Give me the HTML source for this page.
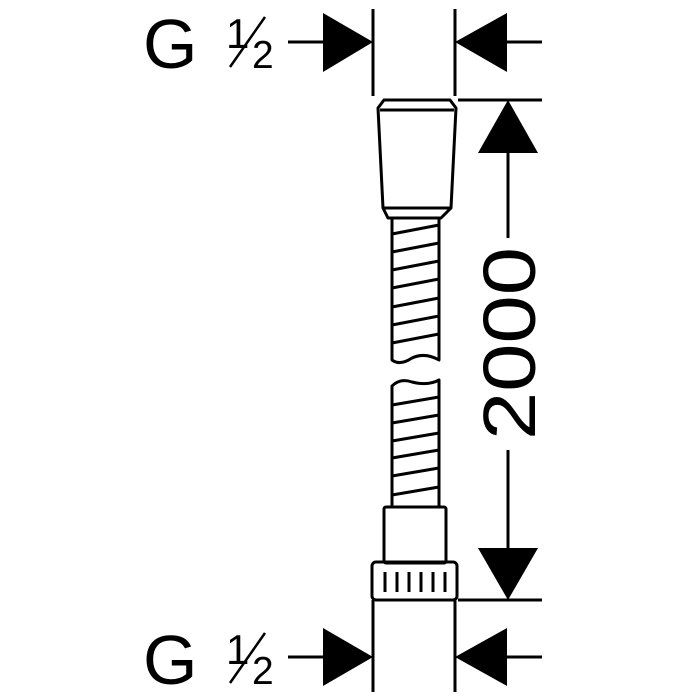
<!DOCTYPE html>
<html><head><meta charset="utf-8"><style>html,body{margin:0;padding:0;background:#fff}svg{display:block}</style></head>
<body>
<svg width="700" height="700" viewBox="0 0 700 700" xmlns="http://www.w3.org/2000/svg" font-family="Liberation Sans, sans-serif">
<g stroke="#000" stroke-width="3" fill="none" stroke-linejoin="round">
  <!-- top dimension -->
  <line x1="373" y1="9" x2="373" y2="96"/>
  <line x1="455" y1="9" x2="455" y2="96"/>
  <line x1="288" y1="42" x2="325" y2="42"/>
  <line x1="505" y1="42" x2="542" y2="42"/>
  <!-- bottom dimension -->
  <line x1="373" y1="600" x2="373" y2="692"/>
  <line x1="455" y1="600" x2="455" y2="692"/>
  <line x1="288" y1="657" x2="325" y2="657"/>
  <line x1="505" y1="657" x2="542" y2="657"/>
  <!-- vertical dimension -->
  <line x1="458" y1="100" x2="542" y2="100"/>
  <line x1="458" y1="600" x2="542" y2="600"/>
  <line x1="508" y1="150" x2="508" y2="238"/>
  <line x1="508" y1="450" x2="508" y2="550"/>
  <!-- top fitting -->
  <path d="M384,100 L450,100 L456,108 L451,208 L441,218 L388,218 L383,208 L378,108 Z"/>
  <line x1="380" y1="110" x2="454" y2="110"/>
  <line x1="384" y1="208" x2="450" y2="208"/>
  <!-- upper hose -->
  <path d="M392,218 L392,360 Q400,366 412,358 Q425,352 439,360 L439,218"/>
  <line x1="392" y1="234" x2="439" y2="225"/>
  <line x1="392" y1="252" x2="439" y2="243"/>
  <line x1="392" y1="270" x2="439" y2="261"/>
  <line x1="392" y1="288" x2="439" y2="279"/>
  <line x1="392" y1="307" x2="439" y2="298"/>
  <line x1="392" y1="325" x2="439" y2="316"/>
  <line x1="392" y1="343" x2="439" y2="334"/>
  <!-- lower hose -->
  <path d="M392,507 L392,386 Q400,378 412,382 Q428,386 439,380 L439,507"/>
  <line x1="392" y1="405" x2="439" y2="397"/>
  <line x1="392" y1="423" x2="439" y2="415"/>
  <line x1="392" y1="441" x2="439" y2="433"/>
  <line x1="392" y1="458" x2="439" y2="450"/>
  <line x1="392" y1="476" x2="439" y2="468"/>
  <line x1="392" y1="495" x2="439" y2="487"/>
  <!-- lower fitting -->
  <rect x="384" y="507" width="62" height="56" rx="2"/>
  <rect x="372" y="562" width="85" height="38" rx="4"/>
  <line x1="385" y1="572" x2="385" y2="592"/>
  <line x1="397" y1="572" x2="397" y2="592"/>
  <line x1="409" y1="572" x2="409" y2="592"/>
  <line x1="421" y1="572" x2="421" y2="592"/>
  <line x1="433" y1="572" x2="433" y2="592"/>
  <line x1="445" y1="572" x2="445" y2="592"/>
  <!-- fraction slashes -->
  <line x1="230" y1="67" x2="265" y2="17" stroke-width="2.5"/>
  <line x1="230" y1="683" x2="265" y2="633" stroke-width="2.5"/>
</g>
<g fill="#000">
  <polygon points="373,42 323,13 323,72"/>
  <polygon points="455,42 507,13 507,72"/>
  <polygon points="373,657 323,628 323,686"/>
  <polygon points="455,657 507,628 507,686"/>
  <polygon points="508,100 478,153 538,153"/>
  <polygon points="508,600 478,548 538,548"/>
</g>
<g fill="#000">
  <text x="143" y="68" font-size="70">G</text>
  <text x="226" y="48" font-size="42">1</text>
  <text x="252" y="68" font-size="39">2</text>
  <text x="143" y="684" font-size="70">G</text>
  <text x="226" y="664" font-size="42">1</text>
  <text x="252" y="684" font-size="39">2</text>
  <text transform="translate(535,440) rotate(-90)" font-size="74" textLength="193" lengthAdjust="spacingAndGlyphs">2000</text>
</g>
</svg>
</body></html>
